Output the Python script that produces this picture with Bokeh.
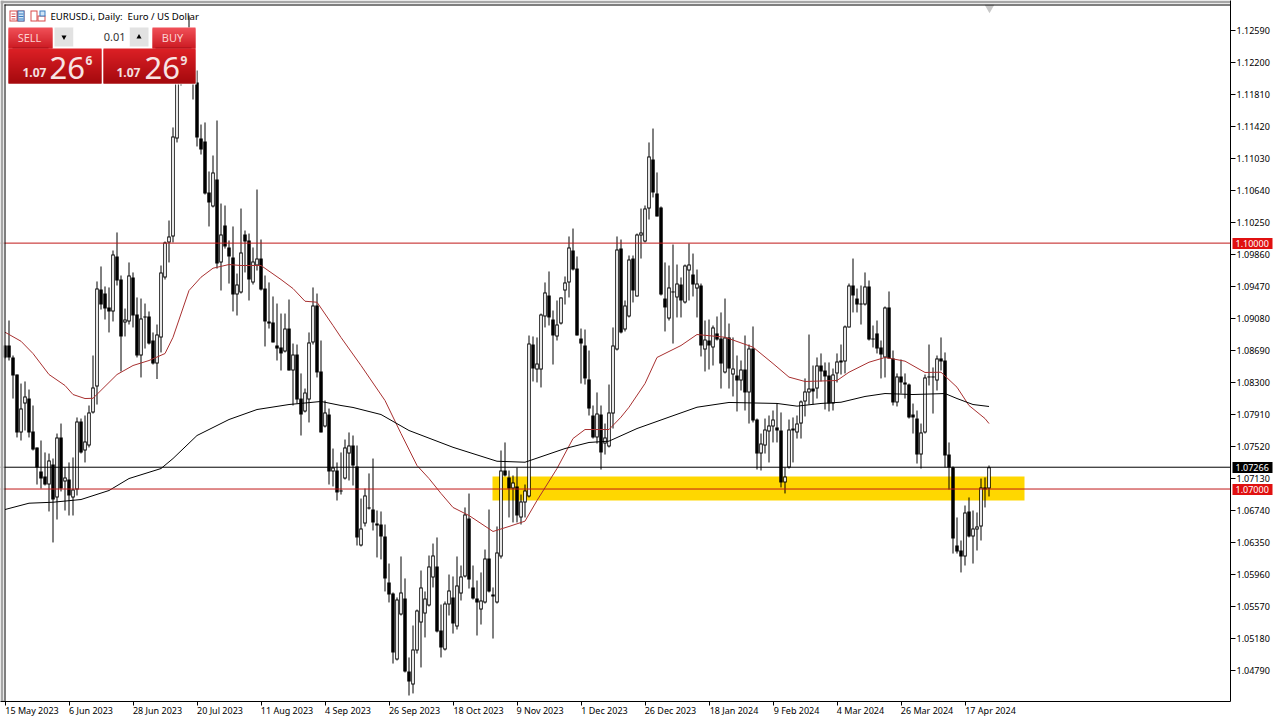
from bokeh.plotting import figure
from bokeh.embed import file_html
from bokeh.resources import INLINE
from bokeh.models import Range1d, FixedTicker, LinearAxis
from bokeh.core.properties import value
import numpy as np

# Quotes in points (1 point = 0.00001)
opens_pts = [
108751,108751,108605,108397,107690,108043,108104,107702,107507,107214,
107153,107055,107299,106897,107629,107092,107116,106897,106994,107824,
107470,107531,107934,108251,109434,109385,109215,109166,109837,109556,
109032,109044,109581,109129,108629,109105,109105,108812,108531,108849,
109581,110008,110081,111276,111984,112350,112106,112228,111960,111276,
111240,110618,110447,110776,109764,110215,109947,109825,109373,109398,
110105,110032,109520,109727,109812,109446,109044,109032,108751,108727,
108678,108958,108446,108641,108104,107946,108092,108788,109239,108434,
107763,107909,107214,107226,106982,107128,107433,107531,107275,106311,
106579,106775,106750,106579,106567,106421,105860,105725,104920,105469,
105664,104774,104615,105030,105372,105481,105579,105921,106055,105274,
105042,105591,105677,105323,105725,105933,106640,105799,105664,105530,
105616,106152,105713,105616,106177,107226,107141,107006,107031,106653,
106836,106909,108763,108458,108458,109105,109361,109068,108861,109019,
109422,109520,109910,109690,108836,108751,108337,107897,107629,107909,
107555,107519,107921,108702,109934,108946,109105,109812,109349,110093,
110020,110422,111020,110605,110435,109324,109080,109410,109337,109495,
109276,109666,109617,109446,109483,108702,108812,108727,108898,108836,
108422,108849,108397,108385,108324,108458,108178,108714,107848,107433,
107531,107702,107763,107751,107714,107080,107263,107714,107690,107799,
108068,108178,108226,108226,108507,108446,108385,108043,108410,108568,
108556,108971,109483,109324,109263,109251,109471,108836,108898,108727,
108605,109215,108593,108056,108373,108300,108275,107909,107860,107421,
107690,108373,108373,108324,108593,108568,107421,107263,106311,106250,
106177,106726,106421,106506,106543,107019,107006]
highs_pts = [
108751,109056,108629,108397,108287,108312,108214,108019,107507,107592,
107446,107433,107372,107677,107799,107263,107324,107385,107873,107860,
107897,108019,108629,109532,109715,109471,109459,109910,110130,109605,
109202,109764,109642,109337,109324,109263,109166,108910,109007,109727,
110020,110276,111411,112008,112350,112472,112777,112472,112106,111447,
111472,110874,111069,111496,110483,110459,110032,110203,109629,110422,
110154,110117,109947,110654,110044,109605,109520,109349,109263,109141,
109141,109312,108775,108763,108410,108226,108910,109459,109385,108812,
108080,107982,107494,107324,107446,107604,107690,107653,107531,106884,
107006,107190,107372,106738,106726,106567,106091,105738,105677,106177,
105909,104945,105335,105530,106006,105750,106189,106335,106409,105591,
105628,105957,105933,106177,106067,106775,106945,106067,105884,105982,
106262,106750,105799,106543,107470,107568,107226,107165,107263,106933,
107055,108873,108861,108849,109141,109520,109654,109178,109300,109337,
109593,110081,110178,109837,108958,108946,108690,108019,108178,108019,
107799,108275,108971,110081,110044,109300,109849,109849,110117,110422,
110459,111228,111398,110862,110447,109764,109727,109983,109739,109581,
109739,109995,109873,109678,109507,109056,109068,108995,109105,109154,
109324,109019,108849,108629,108568,108873,108763,108983,107860,107677,
107860,107897,107958,108043,107934,107263,107848,107873,107897,108080,
108349,108885,108507,108605,108654,108544,108544,108470,108654,108763,
108995,109507,109812,109446,109483,109642,109544,108995,109056,108812,
109227,109410,108690,108410,108580,108410,108287,108043,107958,107799,
108397,108763,108483,108629,108849,108666,107568,107275,106653,106372,
106799,106897,106738,106714,107128,107141,107287]
lows_pts = [
108593,108568,108104,107629,107592,107714,107629,107470,107055,107006,
107043,106726,106348,106628,106970,106738,106677,106677,106921,107433,
107324,107507,107921,108031,109190,109068,108910,109044,109483,108434,
108861,109007,108971,108605,108361,108714,108763,108519,108342,108666,
109556,109764,110008,111228,111923,111984,111984,111752,111179,111081,
110593,110203,110435,109690,109422,109934,109507,109166,109117,109385,
109642,109300,109495,109666,109422,108739,108958,108788,108568,108446,
108666,108446,108019,108043,107653,107934,107812,108763,108361,107690,
107751,107055,107031,106860,106933,107116,107104,107043,106311,106299,
106543,106750,106494,106165,106141,105750,105616,104871,104908,105457,
104762,104481,104506,104993,104823,105189,105567,105799,105250,104945,
105030,105457,105237,105286,105640,105921,105786,105652,105213,105347,
105603,105738,105176,105603,106152,107153,106653,106592,106592,106567,
106653,106897,108312,108300,108239,108971,108995,108519,108812,109007,
109251,109337,109666,108873,108287,108275,107897,107616,107555,107238,
107421,107507,107738,108690,108898,108922,109093,109276,109349,109812,
110008,110288,110557,110325,109361,108922,109056,108775,109093,109093,
109263,109300,109349,109093,108617,108434,108458,108507,108812,108226,
108410,108226,108129,107946,108202,107958,107799,107812,107238,107226,
107433,107324,107568,107568,107019,106946,107250,107324,107616,107616,
107885,108031,108031,108104,108312,107970,107946,107958,108300,108397,
108410,108971,109154,109154,109007,109239,108812,108727,108654,108349,
108361,108593,108019,108007,108165,108104,107860,107677,107311,107250,
107677,108263,107921,108202,108446,107263,106994,106213,106213,105982,
106067,106409,106091,106250,106372,106775,106909]
closes_pts = [
108605,108605,108385,107690,107982,108129,107690,107482,107263,107128,
107055,107348,106872,107629,107006,107141,106921,106994,107824,107446,
107580,107934,108239,109446,109251,109202,109166,109861,109544,108861,
109068,109605,109117,108629,109080,109093,108775,108531,108885,109642,
110008,110081,111301,111984,112228,112106,112594,111984,111289,111142,
110605,110496,110862,109751,110105,109959,109837,109373,109495,109886,
110020,109556,109776,109812,109434,109044,109019,108788,108714,108654,
108958,108446,108641,108092,107909,108177,108788,109239,108422,107690,
107934,107214,107263,106958,106970,107507,107531,107287,106409,106518,
106921,106762,106592,106555,106421,105909,105713,105006,105652,105738,
104774,104652,105042,105518,105799,105664,106055,106189,105262,105067,
105603,105762,105360,105823,105933,106689,105896,105664,105616,105640,
106152,105750,105689,106226,107226,107165,107006,107080,106677,106848,
106982,108775,108470,108531,109129,109398,109093,108873,109007,109337,
109520,109947,109678,108873,108775,108349,107982,107629,107921,107446,
107629,107934,108751,109922,108910,109239,109800,109422,110105,110130,
110422,111057,110618,110325,109373,109215,109459,109398,109507,109300,
109727,109739,109495,109507,108751,108824,108751,108971,108824,108531,
108849,108470,108470,108324,108458,108178,108714,107836,107433,107555,
107726,107775,107848,107714,107080,107153,107726,107738,107799,108068,
108190,108226,108190,108507,108434,108373,108043,108397,108556,108544,
108983,109483,109361,109251,109251,109471,108824,108824,108714,108641,
109215,108593,108056,108373,108300,108275,107873,107873,107421,107690,
108361,108361,108361,108593,108556,107409,107263,106396,106238,106177,
106714,106421,106518,106543,107019,106994,107266]

ma_fast_idx = [0,4,7,11,15,17,20,22,28,32,36,40,42,46,49,52,56,59,64,69,72,75,78,82,84,89,95,99,103,106,109,112,116,122,126,130,133,138,142,145,151,154,156,160,163,169,173,180,187,192,196,200,208,211,216,220,225,230,234,238,241,245,246]
ma_fast_pts = [108913,108803,108653,108397,108263,108153,108104,108107,108397,108507,108568,108653,108851,109422,109584,109694,109739,109727,109727,109556,109446,109291,109279,108995,108849,108507,108080,107677,107287,107128,106946,106775,106677,106482,106543,106608,106860,107250,107616,107726,107726,107877,107998,108287,108605,108751,108885,108852,108731,108531,108365,108312,108324,108425,108547,108605,108560,108422,108425,108242,108019,107860,107799]
ma_slow_idx = [0,6,12,19,26,31,39,42,48,56,63,71,79,84,87,94,101,112,123,130,140,146,151,158,166,173,181,193,198,204,209,215,220,227,235,238,242,246]
ma_slow_pts = [106750,106827,106839,106872,106982,107128,107250,107372,107653,107848,107970,108031,108068,108019,107995,107909,107714,107509,107339,107327,107494,107568,107584,107738,107877,107998,108056,108044,108011,108044,108059,108129,108165,108153,108165,108104,108031,108007]

date_idx = [0,16,32,48,64,80,96,112,128,144,160,176,192,208,224,240]
date_labels = ["15 May 2023","6 Jun 2023","28 Jun 2023","20 Jul 2023","11 Aug 2023","4 Sep 2023","26 Sep 2023","18 Oct 2023","9 Nov 2023","1 Dec 2023","26 Dec 2023","18 Jan 2024","9 Feb 2024","4 Mar 2024","26 Mar 2024","17 Apr 2024"]
date_label_widths = [54,44,49,46,52,46,51,51,46,47,51,50,47,47,52,51]
price_ticks = [1.12590,1.12200,1.11810,1.11420,1.11030,1.10640,1.10250,1.09860,1.09470,1.09080,1.08690,1.08300,1.07910,1.07520,1.07130,1.06740,1.06350,1.05960,1.05570,1.05180,1.04790]
level_high = 1.10000
level_low = 1.07000
last_price = 1.07266
zone_top = 1.07153
zone_bottom = 1.06860
zone_start_bar = 121.875
zone_end_bar = 254.875

FONT = "Noto Sans"
PX = 0.000122   # one screen pixel in price
o, h, l, c = [np.array(a) / 1e5 for a in (opens_pts, highs_pts, lows_pts, closes_pts)]
idx = np.arange(len(o))
up = c >= o

p = figure(frame_width=1230, frame_height=701, output_backend="svg", toolbar_location=None,
           x_range=Range1d(-4.5 / 4, -4.5 / 4 + 1230 / 4),
           y_range=Range1d((112960 - 12.2 * 701) / 1e5, 112960 / 1e5),
           y_axis_location="right",
           min_border_left=0, min_border_right=55, min_border_top=0, min_border_bottom=23,
           background_fill_color="white", border_fill_color="white")
p.grid.visible = False
p.outline_line_color = None

def sx(v):
    return (np.asarray(v, dtype=float) - 4.5) / 4
def sy(v):
    return (112960 - 12.2 * np.asarray(v, dtype=float)) / 1e5

# X axis: labels start at their tick, so the label centres are offset
xa = p.xaxis[0]
centres = [d + w / 8 for d, w in zip(date_idx, date_label_widths)]
xa.ticker = FixedTicker(ticks=centres, minor_ticks=date_idx)
xa.major_label_overrides = dict(zip(centres, date_labels))
xa.major_label_text_font = FONT
xa.major_label_text_font_size = "9px"
xa.major_label_text_color = "black"
xa.major_label_standoff = -2
xa.major_tick_line_color = None
xa.major_tick_in = 0
xa.major_tick_out = 4
xa.minor_tick_line_color = "black"
xa.minor_tick_in = 0
xa.minor_tick_out = 4
xa.axis_line_color = "black"

# Y axis
ya = p.yaxis[0]
ya.ticker = FixedTicker(ticks=price_ticks)
ya.major_label_overrides = {t: f"{t:.5f}" for t in price_ticks}
ya.major_label_text_font = FONT
ya.major_label_text_font_size = "9px"
ya.major_label_text_color = "black"
ya.major_label_standoff = 1
ya.major_tick_in = 0
ya.major_tick_out = 5
ya.minor_tick_line_color = None
ya.axis_line_color = "black"

# Price tags: thick ticks of extra axes form the coloured boxes
def tag_axis(ticks, color):
    ax = LinearAxis(ticker=FixedTicker(ticks=ticks),
                    major_label_overrides={t: f"{t:.5f}" for t in ticks},
                    major_label_text_font=FONT, major_label_text_font_size="9px",
                    major_label_text_color="white", major_label_standoff=-37,
                    major_tick_in=40, major_tick_out=0, major_tick_line_color=color,
                    major_tick_line_width=11, minor_tick_line_color=None, axis_line_color=None)
    p.add_layout(ax, "right")
tag_axis([level_high, level_low], "#e01010")
tag_axis([last_price], "black")

# Zone
p.quad(left=[zone_start_bar], right=[zone_end_bar], top=[zone_top], bottom=[zone_bottom],
       fill_color="#ffd700", line_color=None)

# Candles
p.segment(idx, l, idx, h, line_color="black", line_width=1)
body_top = np.maximum(o, c)
body_bot = np.minimum(o, c)
outer_top = np.maximum(body_top, body_bot + PX)
p.vbar(idx, 0.875, outer_top, body_bot, fill_color="black", line_color=None)
inner = up & (body_top - body_bot > 2.2 * PX)
p.vbar(idx[inner], 0.45, body_top[inner] - PX, body_bot[inner] + PX, fill_color="white", line_color=None)

# Moving averages
p.line(ma_fast_idx, np.array(ma_fast_pts) / 1e5, line_color="#a83030", line_width=1)
p.line(ma_slow_idx, np.array(ma_slow_pts) / 1e5, line_color="black", line_width=1)

# Levels
x0_f, x1_f = p.x_range.start, p.x_range.end
p.segment([x0_f, x0_f], [level_high, level_low], [x1_f, x1_f], [level_high, level_low], line_color="#c01818", line_width=1)
p.segment([x0_f], [last_price], [x1_f], [last_price], line_color="black", line_width=1)

# Shift marker
p.scatter([sx(989)], [sy(7)], marker="inverted_triangle", size=10, fill_color="#c8c8c8", line_color=None)

# Trading panel chrome
def rect(x0, y0, x1, y1, color):
    p.quad(left=[sx(x0)], right=[sx(x1)], top=[sy(y0)], bottom=[sy(y1)], fill_color=color, line_color=None)
def grad(x0, y0, x1, y1, c0, c1):
    n = y1 - y0
    c0, c1 = np.array(c0), np.array(c1)
    cols = ["#%02x%02x%02x" % tuple(int(v) for v in c0 + (c1 - c0) * i / max(n - 1, 1)) for i in range(n)]
    ys = np.arange(y0, y1)
    p.quad(left=[sx(x0)] * n, right=[sx(x1)] * n, top=sy(ys), bottom=sy(np.minimum(ys + 2, y1)), fill_color=cols, line_color=None)
def text(x, y, t, size, color, align="left", style="normal"):
    p.text([sx(x)], [sy(y)], text=[t], text_font=value(FONT), text_font_size=f"{size}px", text_color=color,
           text_align=align, text_baseline="middle", text_font_style=style)

rect(8, 27, 196, 84, "white")
grad(8, 27, 52, 48, (240, 80, 88), (205, 28, 36))
grad(152, 27, 195, 48, (240, 80, 88), (205, 28, 36))
rect(12, 47, 48, 48, "#a01018")
rect(155, 47, 191, 48, "#a01018")
grad(8, 48, 101, 83, (220, 32, 38), (165, 10, 14))
grad(103, 48, 195, 83, (220, 32, 38), (165, 10, 14))
rect(54, 27, 73, 46, "#e2e2e2")
rect(129, 27, 148, 46, "#e2e2e2")
rect(73, 27, 129, 46, "white")
p.scatter([sx(63.5)], [sy(36.5)], marker="inverted_triangle", size=5, fill_color="black", line_color=None)
p.scatter([sx(138.5)], [sy(36.5)], marker="triangle", size=5, fill_color="black", line_color=None)
text(29, 37, "SELL", 11, "#fbd0d0", "center")
text(172, 37, "BUY", 11, "#fbd0d0", "center")
text(125, 36, "0.01", 11, "#333333", "right")
text(22, 72, "1.07", 12, "#f4e0e0", "left", "bold")
text(49, 67, "26", 31, "#f8e4e4")
text(85, 60, "6", 12, "#f4e0e0", "left", "bold")
text(116, 72, "1.07", 12, "#f4e0e0", "left", "bold")
text(144, 67, "26", 31, "#f8e4e4")
text(180, 60, "9", 12, "#f4e0e0", "left", "bold")

# Title bar icons
rect(9, 10, 24, 21, "#d84a4a")
rect(10, 11, 16, 20, "white")
rect(17, 10, 24, 21, "#3a7cc0")
rect(18, 11, 23, 20, "#cfe4f6")
for yy in (13, 15.5, 18):
    rect(11, yy, 15, yy + 1, "#d84a4a")
    rect(18, yy, 23, yy + 1, "#3a7cc0")
rect(30, 10, 37, 21, "#d84a4a")
rect(31, 11, 36, 20, "white")
rect(37, 15, 45, 21, "#d84a4a")
rect(38, 16, 44, 20, "white")
rect(39, 10, 45, 16, "#3a7cc0")
rect(40, 11, 44, 15, "#cfe4f6")
text(50, 15.5, "EURUSD.i, Daily:\u00a0 Euro / US Dollar", 9.6, "black")

# Window edges inside the frame
rect(0, 0, 1230, 3, "#a6a6a6")
rect(0, 0, 3, 701, "#a6a6a6")
rect(3, 3, 4, 701, "white")
rect(3, 3, 1230, 4, "white")
rect(4, 4, 1230, 5, "black")
rect(4, 4, 5, 701, "black")
rect(0, 700, 4, 701, "#a6a6a6")

open("out.html", "w").write(file_html(p, INLINE))
